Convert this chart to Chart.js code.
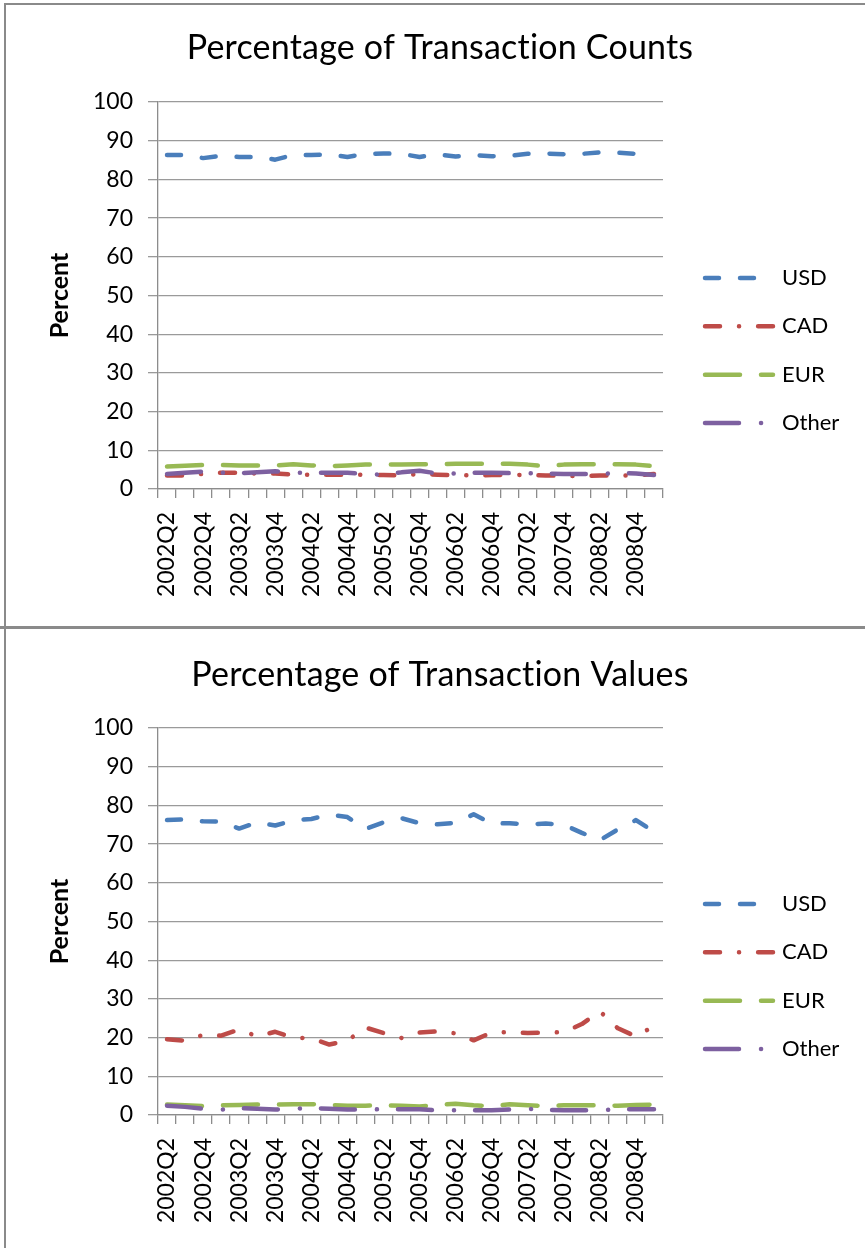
<!DOCTYPE html>
<html><head><meta charset="utf-8">
<script src="https://cdn.jsdelivr.net/npm/chart.js@4.4.0/dist/chart.umd.min.js"></script>
<style>
html,body{margin:0;padding:0;background:#fff;}
body{width:865px;height:1248px;position:relative;overflow:hidden;}
canvas{position:absolute;left:0;}
#c1{top:0}
#c2{top:630px}
.frame{position:absolute;background:#8a8a8a;z-index:2;}
</style></head><body>
<canvas id="c1" width="865" height="626"></canvas>
<canvas id="c2" width="865" height="618"></canvas>
<div class="frame" style="left:4px;top:3px;width:861px;height:2px"></div>
<div class="frame" style="left:4px;top:3px;width:2px;height:1245px"></div>
<div class="frame" style="left:0;top:626px;width:865px;height:3px"></div>
<script>
const quarters = ['2002Q2','2002Q3','2002Q4','2003Q1','2003Q2','2003Q3','2003Q4','2004Q1','2004Q2','2004Q3','2004Q4','2005Q1','2005Q2','2005Q3','2005Q4','2006Q1','2006Q2','2006Q3','2006Q4','2007Q1','2007Q2','2007Q3','2007Q4','2008Q1','2008Q2','2008Q3','2008Q4','2009Q1'];
const yTicks = [0,10,20,30,40,50,60,70,80,90,100];
const seriesNames = ['USD','CAD','EUR','Other'];

const countsUSD   = [86.3,86.3,85.5,86.1,85.8,85.8,85.1,86.3,86.3,86.4,85.8,86.6,86.7,86.6,85.8,86.5,85.9,86.3,86.0,86.1,86.6,86.7,86.5,86.6,87.0,86.9,86.6,87.0];
const countsCAD   = [3.5,3.5,3.9,4.2,4.2,4.0,4.0,3.7,3.7,3.7,3.7,3.7,3.6,3.5,3.9,3.7,3.6,3.5,3.6,3.7,3.6,3.5,3.4,3.3,3.5,3.5,3.5,3.9];
const countsEUR   = [5.8,6.0,6.2,6.2,6.1,6.1,6.1,6.4,6.1,5.9,6.1,6.3,6.3,6.3,6.4,6.4,6.5,6.5,6.5,6.5,6.3,5.9,6.3,6.4,6.4,6.4,6.3,5.9];
const countsOther = [3.9,4.2,4.5,4.2,4.1,4.3,4.6,4.2,4.2,4.2,4.2,3.9,3.7,4.3,4.7,4.0,4.0,4.2,4.2,4.1,4.1,4.0,3.9,3.9,3.9,4.1,4.0,3.6];

const valuesUSD   = [76.2,76.4,75.9,75.8,74.0,75.6,74.8,76.1,76.5,77.6,77.0,73.9,75.6,76.7,75.4,75.1,75.5,77.7,75.3,75.4,75.1,75.3,75.0,72.9,71.0,73.8,76.2,73.2];
const valuesCAD   = [19.6,19.2,20.7,20.5,22.1,20.3,21.5,20.0,19.8,18.2,19.2,22.6,21.2,19.9,21.3,21.6,21.1,19.3,21.3,21.4,21.2,21.3,21.4,23.5,26.8,22.4,20.3,23.0];
const valuesEUR   = [2.7,2.5,2.3,2.5,2.6,2.7,2.7,2.8,2.8,2.6,2.4,2.4,2.5,2.4,2.2,2.6,2.9,2.5,2.3,2.8,2.5,2.3,2.5,2.5,2.5,2.4,2.6,2.7];
const valuesOther = [2.4,2.1,1.6,1.4,1.8,1.6,1.4,1.6,1.8,1.6,1.4,1.4,1.5,1.5,1.5,1.2,1.2,1.2,1.2,1.4,1.6,1.3,1.2,1.2,1.2,1.5,1.5,1.5];

const colors = ['#4a7ebb','#be4b48','#98b954','#7d60a0'];
const dashes = [[14,21],[15,19,0.1,19],[35,21],[34,22,0.1,21]];
const FONT = 'Lato';

const deco = {
  id: 'deco',
  afterDraw(chart, args, opts) {
    const ctx = chart.ctx, ca = chart.chartArea;
    ctx.save();
    ctx.fillStyle = '#000';
    ctx.font = '34px ' + FONT;
    ctx.textAlign = 'center';
    ctx.textBaseline = 'middle';
    if ('letterSpacing' in ctx) ctx.letterSpacing = '0.2px';
    ctx.fillText(opts.title, 440, opts.titleY);
    if ('letterSpacing' in ctx) ctx.letterSpacing = '0px';
    const mid = (ca.top + ca.bottom) / 2 + 55;
    chart.data.datasets.forEach((ds, i) => {
      const y = mid + (i - 1.5) * 48.3;
      ctx.strokeStyle = ds.borderColor;
      ctx.lineWidth = ds.borderWidth;
      ctx.lineCap = 'round';
      ctx.setLineDash(ds.borderDash);
      ctx.beginPath(); ctx.moveTo(705, y); ctx.lineTo(773, y); ctx.stroke();
      ctx.setLineDash([]);
      ctx.textAlign = 'left';
      ctx.font = '22px ' + FONT;
      ctx.fillText(ds.label, 782, y);
    });
    ctx.restore();
  }
};

function build(id, title, titleY, top, xh, vals) {
  new Chart(document.getElementById(id), {
    type: 'line',
    data: {
      labels: quarters,
      datasets: vals.map((v, i) => ({
        label: seriesNames[i], data: v, borderColor: colors[i], backgroundColor: colors[i],
        borderDash: dashes[i], borderWidth: 4.5, borderCapStyle: 'round', borderJoinStyle: 'round',
        pointRadius: 0, fill: false, tension: 0, order: 4 - i
      }))
    },
    options: {
      responsive: false, animation: false, events: [],
      layout: { padding: { left: 0, top: top, right: 202, bottom: 0 } },
      plugins: { legend: { display: false }, tooltip: { enabled: false }, deco: { title: title, titleY: titleY } },
      scales: {
        x: {
          offset: true,
          grid: { offset: true, drawOnChartArea: false, drawTicks: true, tickLength: 9, color: '#8c8c8c', lineWidth: 1.3 },
          border: { display: true, color: '#8c8c8c', width: 1.3 },
          ticks: { autoSkip: false, maxRotation: 90, minRotation: 90, padding: 14, color: '#000',
                   font: { family: FONT, size: 23 }, callback: (v, i) => (i % 2 === 0 ? quarters[i] : '') },
          afterFit: s => { s.height = xh; s.paddingLeft = 0; s.paddingRight = 0; }
        },
        y: {
          min: 0, max: 100,
          afterBuildTicks: s => { s.ticks = yTicks.map(v => ({ value: v })); },
          ticks: { padding: 15, color: '#000', font: { family: FONT, size: 23 } },
          grid: { color: '#9a9a9a', lineWidth: 1.3, tickLength: 10 },
          border: { color: '#8c8c8c', width: 1.3 },
          title: { display: true, text: 'Percent', color: '#000', font: { family: FONT, size: 25, weight: 'bold' }, padding: { top: 45, bottom: 0 } },
          afterFit: s => { s.width = 158; s.paddingTop = 0; s.paddingBottom = 0; }
        }
      }
    },
    plugins: [deco]
  });
}

build('c1', 'Percentage of Transaction Counts', 48, 102, 137, [countsUSD, countsCAD, countsEUR, countsOther]);
build('c2', 'Percentage of Transaction Values', 45, 98, 133, [valuesUSD, valuesCAD, valuesEUR, valuesOther]);
</script>
</body></html>
